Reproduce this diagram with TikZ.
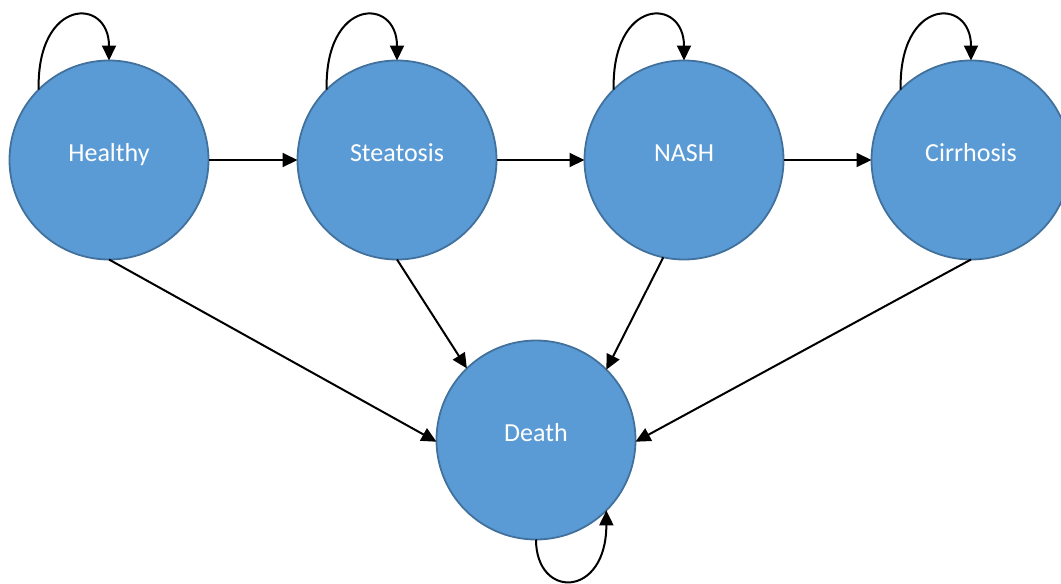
\documentclass[tikz,border=0pt]{standalone}
\usepackage{fontspec}
\setmainfont{Carlito}
\usetikzlibrary{arrows.meta,calc}
\definecolor{statefill}{HTML}{5B9BD5}
\definecolor{stateedge}{HTML}{41719C}
\tikzset{
  state/.style={circle, draw=stateedge, fill=statefill, line width=1.8pt,
    minimum size=199pt, inner sep=0pt, outer sep=0pt, text=white,
    font=\fontsize{26}{30}\selectfont, text height=10pt, text depth=8pt},
  trans/.style={line width=2pt, -{Triangle[length=15pt,width=14pt]}}
}
\begin{document}
\begin{tikzpicture}[x=1pt,y=-1pt]
  \useasboundingbox (0,0) rectangle (1061,584);
  % disease states
  \node[state] (H) at (109,160) {Healthy};
  \node[state] (S) at (397,160) {Steatosis};
  \node[state] (N) at (684,160) {NASH};
  \node[state] (C) at (971,160) {Cirrhosis};
  \node[state] (D) at (536,440) {Death};
  % progression
  \draw[trans] (H.east) -- (S.west);
  \draw[trans] (S.east) -- (N.west);
  \draw[trans] (N.east) -- (C.west);
  % transitions to death
  \draw[trans] (H.south) -- (D.181);
  \draw[trans] (S.south) -- (D.134);
  \draw[trans] (N.-102) -- (D.45);
  \draw[trans] (C.south) -- (D.-1);
  % remaining in the same state
  \foreach \s in {H,S,N,C} {
    \draw[trans] (\s.135) .. controls ($(\s.135)+(-2,-92)$) and ($(\s.90)+(0,-64)$) .. (\s.90);
  }
  \draw[trans] (D.-90) .. controls ($(D.-90)+(0,60)$) and ($(D.-45)+(0,88)$) .. (D.-45);
\end{tikzpicture}
\end{document}
